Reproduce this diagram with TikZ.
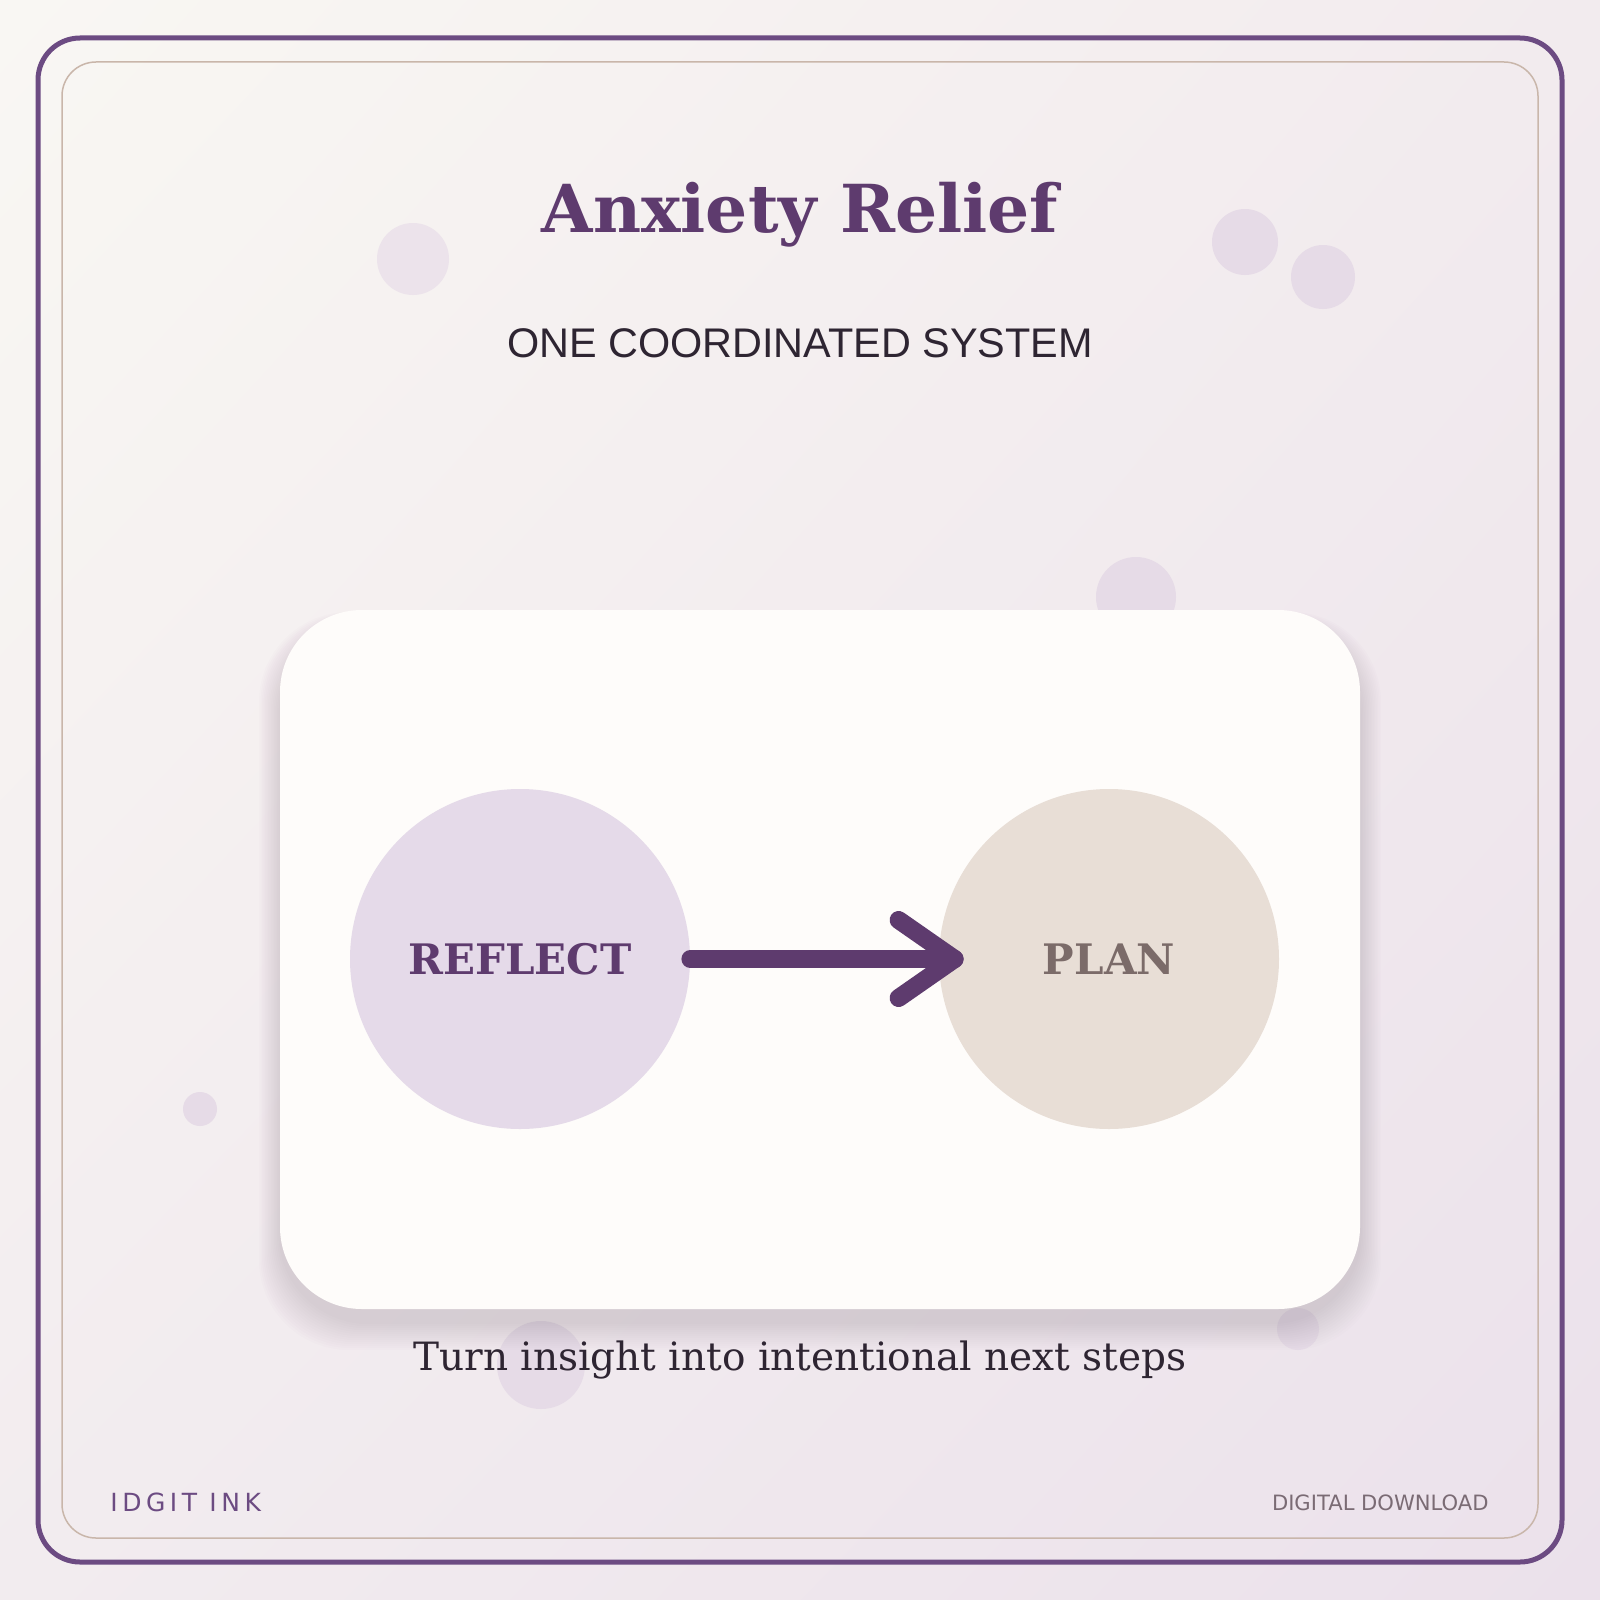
\documentclass[tikz,border=0pt]{standalone}
\usepackage{fontspec}
\setmainfont{DejaVu Serif}
\newfontfamily\headsans{Liberation Sans}
\newfontfamily\brandsans[LetterSpace=18]{DejaVu Sans}
\newfontfamily\footsans{DejaVu Sans}
\usetikzlibrary{positioning,calc,shadings}

\definecolor{plum}{HTML}{5E3B6E}
\definecolor{framepurple}{HTML}{6C4B82}
\definecolor{frametan}{HTML}{C9B6AA}
\definecolor{ink}{HTML}{2E2532}
\definecolor{lilac}{HTML}{E5DAE9}
\definecolor{sand}{HTML}{E8DED6}
\definecolor{taupe}{HTML}{7B6B69}
\definecolor{bubble}{HTML}{E6DBE7}
\definecolor{cardwhite}{HTML}{FEFCFA}
\definecolor{footgrey}{HTML}{7A6B74}
\definecolor{bgtl}{HTML}{F9F7F3}
\definecolor{bgtr}{HTML}{F2EBEE}
\definecolor{bgbl}{HTML}{F2ECEF}
\definecolor{bgbr}{HTML}{EBE1EB}

\begin{document}
\begin{tikzpicture}[x=0.5pt, y=-0.5pt,
    stepdisc/.style={circle, minimum size=170pt, inner sep=0pt,
                     font=\bfseries\fontsize{21}{25}\selectfont},
    flow/.style={line width=9pt, plum, line cap=round, line join=round},
    dot/.style={fill=bubble}
]
    % background and frame
    \shade[upper left=bgtl, upper right=bgtr, lower left=bgbl, lower right=bgbr]
        (0,0) rectangle (1600,1600);
    \draw[framepurple, line width=2.5pt, rounded corners=21pt] (38,38) rectangle (1562,1562);
    \draw[frametan, line width=0.75pt, rounded corners=17pt] (62,62) rectangle (1538,1538);

    % bubbles
    \fill[fill=bubble!70!bgtl] (413,259) circle (36);
    \fill[dot] (1245,242) circle (33);
    \fill[dot] (1323,277) circle (32);
    \fill[dot] (1136,597) circle (40);
    \fill[dot] (200,1109) circle (17);
    \fill[dot] (541,1365) circle (44);
    \fill[dot] (1298,1329) circle (21);

    % headings
    \node[anchor=base, inner sep=0pt, text=plum, font=\bfseries\fontsize{33.1}{38}\selectfont]
        (title) at (800,232) {Anxiety Relief};
    \node[anchor=base, inner sep=0pt, text=ink, font=\headsans\fontsize{20.7}{24}\selectfont]
        (subtitle) at (800,357) {ONE COORDINATED SYSTEM};

    % card with soft shadow
    \foreach \s in {1,...,14}
        \fill[plum, opacity=0.012, rounded corners=45pt]
            (280-1.5*\s,626-1*\s) rectangle (1360+1.5*\s,1322+2*\s);
    \node[fill=cardwhite, rounded corners=41pt, minimum width=540pt, minimum height=349.5pt,
          inner sep=0pt] (card) at (820,959.5) {};

    \node[stepdisc, fill=lilac, text=plum] (reflect) at (520,959) {REFLECT};
    \node[stepdisc, fill=sand, text=taupe] (plan) at (1109,959) {PLAN};

    \coordinate (tip) at ($(plan.west)+(16,0)$);
    \draw[flow] (reflect.east) -- (tip);
    \draw[flow] ($(tip)+(-56,-39)$) -- (tip) -- ($(tip)+(-56,39)$);

    \node[anchor=base, inner sep=0pt, text=ink, font=\fontsize{19.5}{23}\selectfont]
        (caption) at (800,1370) {Turn insight into intentional next steps};

    % footer
    \node[anchor=base west, inner sep=0pt, text=framepurple, font=\brandsans\fontsize{12.5}{15}\selectfont]
        (brand) at (110,1511) {IDGIT INK};
    \node[anchor=base east, inner sep=0pt, text=footgrey, font=\footsans\fontsize{10.55}{12}\selectfont]
        (tag) at (1489,1510) {DIGITAL DOWNLOAD};
\end{tikzpicture}
\end{document}
